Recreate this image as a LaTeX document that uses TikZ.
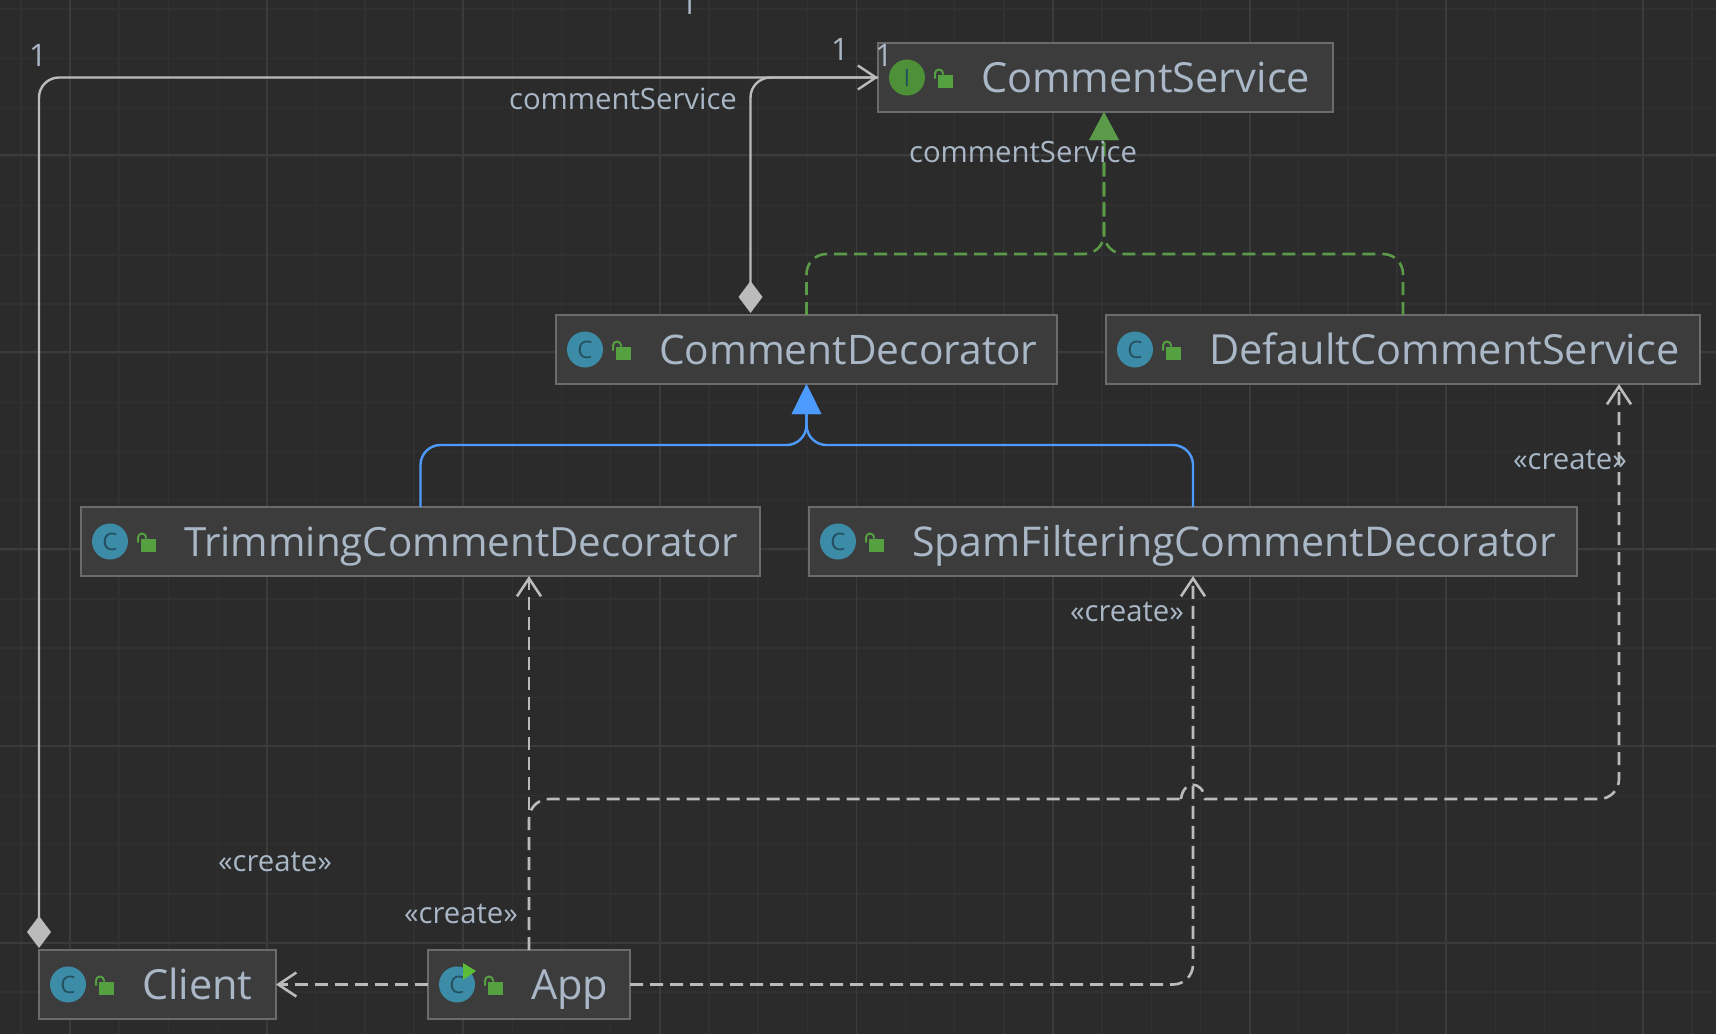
\documentclass[tikz,border=0pt]{standalone}
\usepackage{fontspec}
\setmainfont{Open Sans}
\usetikzlibrary{arrows.meta,positioning}
\definecolor{fondo}{HTML}{2B2B2B}
\definecolor{gridminor}{HTML}{313131}
\definecolor{gridmajor}{HTML}{3B3B3B}
\definecolor{cajafill}{HTML}{3C3C3C}
\definecolor{cajaline}{HTML}{6B6B6B}
\definecolor{texto}{HTML}{A9B7C6}
\definecolor{linea}{HTML}{BBBBBB}
\definecolor{azul}{HTML}{4E9BFF}
\definecolor{verde}{HTML}{5A9A48}
\definecolor{candado}{HTML}{55A040}
\definecolor{iconoc}{HTML}{3C8CA8}
\definecolor{iconoi}{HTML}{4D9038}
\definecolor{tinta}{HTML}{24505F}
\definecolor{play}{HTML}{5DBB3A}

\begin{document}
\begin{tikzpicture}[x=1pt,y=-1pt,>=Stealth,
  classbox/.style={draw=cajaline,fill=cajafill,line width=2.4pt,anchor=north west,inner sep=0pt,outer sep=0pt,
    minimum height=69pt,align=left,text height=38pt,text depth=8pt,text=texto,font=\fontsize{41.5}{48}\selectfont},
  tag/.style={text=texto,inner sep=0pt,font=\fontsize{29.3}{34}\selectfont},
  mult/.style={text=texto,inner sep=0pt,font=\fontsize{31}{36}\selectfont},
  icon/.style={circle,minimum size=36pt,inner sep=0pt,text=tinta,font=\fontsize{24}{26}\selectfont},
  assoc/.style={draw=linea,line width=2.4pt,rounded corners=20pt},
  depline/.style={draw=linea,line width=2.6pt,dash pattern=on 13pt off 7pt,rounded corners=20pt},
  dep/.style={depline,-{Straight Barb[length=18pt,width=24pt]}},
  real/.style={draw=verde,line width=2.6pt,dash pattern=on 13pt off 7pt,rounded corners=20pt,
    -{Triangle[length=28pt,width=29pt,fill=verde]}},
  ext/.style={draw=azul,line width=2.4pt,rounded corners=20pt,-{Triangle[length=30pt,width=29pt,fill=azul]}}]
\useasboundingbox (0,0) rectangle (1716,1034);
\fill[fondo] (0,0) rectangle (1716,1034);
\foreach \i in {0,...,34} \draw[gridminor,line width=1.4pt] (20.85+49.15*\i,0) -- (20.85+49.15*\i,1034);
\foreach \i in {0,...,21} \draw[gridminor,line width=1.4pt] (0,9.15+49.15*\i) -- (1716,9.15+49.15*\i);
\foreach \i in {0,...,8} \draw[gridmajor,line width=1.8pt] (70+196.6*\i,0) -- (70+196.6*\i,1034);
\foreach \i in {0,...,4} \draw[gridmajor,line width=1.8pt] (0,155+197*\i) -- (1716,155+197*\i);

\node[classbox,text width=455pt] (svc) at (878,43) {\hspace*{103pt}CommentService};
\node[classbox,text width=501pt,font=\fontsize{40.7}{48}\selectfont] (dec) at (556,315) {\hspace*{103pt}CommentDecorator};
\node[classbox,text width=594pt] (def) at (1106,315) {\hspace*{103pt}DefaultCommentService};
\node[classbox,text width=679pt,font=\fontsize{40.3}{48}\selectfont] (tri) at (81,507) {\hspace*{103pt}TrimmingCommentDecorator};
\node[classbox,text width=768pt,font=\fontsize{41}{48}\selectfont] (spam) at (809,507) {\hspace*{103pt}SpamFilteringCommentDecorator};
\node[classbox,text width=237pt] (cli) at (39,950) {\hspace*{103pt}Client};
\node[classbox,text width=202pt] (app) at (428,950) {\hspace*{103pt}App};

\foreach \n/\l/\c in {svc/I/iconoi,dec/C/iconoc,def/C/iconoc,tri/C/iconoc,spam/C/iconoc,cli/C/iconoc,app/C/iconoc}{
  \begin{scope}[shift={(\n.west)}]
    \node[icon,fill=\c] (\n icon) at (29,0) {\l};
    \fill[candado] (60,-3) rectangle (75,10);
    \draw[candado,line width=2pt] (57,1) -- (57,-4) arc[start angle=180,end angle=0,radius=4pt] -- (65,-3);
  \end{scope}
}
\fill[play] (463,963) -- (476,971) -- (463,980) -- cycle;

\draw[assoc,{Diamond[length=32pt,width=24pt,fill=linea]}-{Straight Barb[length=18pt,width=24pt]}]
  ([yshift=2pt]cli.north west) |- (svc.west);
\draw[assoc,{Diamond[length=32pt,width=24pt,fill=linea]}-] ([xshift=-56pt,yshift=2pt]dec.north) |- (svc.west);

\draw[real] (dec.north) -- ++(0,-61) -| ([xshift=-1.5pt]svc.south);
\draw[real] (def.north) -- ++(0,-61) -| ([xshift=-1.5pt]svc.south);
\draw[ext] (tri.north) -- ++(0,-62) -| (dec.south);
\draw[ext] (spam.north) -- ++(0,-62) -| (dec.south);

\coordinate (jumpa) at (1181,799);
\coordinate (jumpb) at (1205,799);
\draw[dep] (app.west) -- (cli.east);
\draw[dep] (app.north) -- (app.north |- tri.south);
\draw[dep] (app.east) -| (spam.south);
\draw[depline] (app.north) |- (jumpa);
\draw[dep,sharp corners] (jumpa) .. controls (1183,780) and (1203,780) .. (jumpb)
  [rounded corners=20pt] -| ([xshift=216pt]def.south);

\node[mult] (n1) at (38,55) {1};
\node[mult] (n2) at (689,3) {1};
\node[mult] (n3) at (840,49) {1};
\node[mult] (n4) at (884,55) {1};
\node[tag] (role1) at (623,99) {commentService};
\node[tag] (role2) at (1023,152) {commentService};
\node[tag] (mk1) at (275,862) {«create»};
\node[tag] (mk2) at (461,914) {«create»};
\node[tag] (mk3) at (1127,612) {«create»};
\node[tag] (mk4) at (1570,460) {«create»};
\end{tikzpicture}
\end{document}
